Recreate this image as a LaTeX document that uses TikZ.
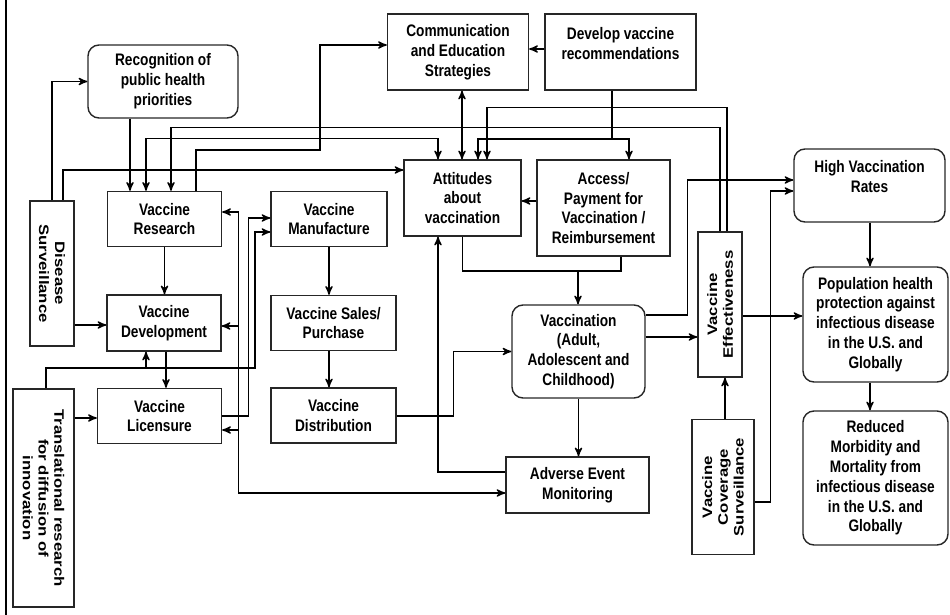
\documentclass[tikz,border=0pt]{standalone}
\usepackage{fontspec}
\setmainfont{Liberation Sans}[FakeStretch=0.82]
\newfontfamily\vertfont{Liberation Sans}[FakeStretch=1.22]
\usetikzlibrary{arrows,positioning}
\tikzset{
>=stealth',
punktbox/.style={ rectangle, draw=black!85, thick, align=center, inner sep=0pt},
rundbox/.style={ punktbox, rounded corners=0.22cm},
standbox/.style={ punktbox, font=\vertfont\fontsize{7.8}{9}\selectfont\bfseries},
dims/.style 2 args={minimum width=#1*0.02cm, minimum height=#2*0.02cm},
line/.style={draw, thick, ->},
merge/.style={draw, thick, -},
twoway/.style={draw, thick, <->},
}
\begin{document}
\begin{tikzpicture}
[x=0.02cm, y=-0.02cm, font=\fontsize{9.5}{11.3}\selectfont\bfseries]
\useasboundingbox (0,0) rectangle (950,615);
\draw[line width=1.6pt] (6,0) -- (6,615);

% left column
\node[rundbox, dims={150}{73}] (recog) at (163,81.5) {Recognition of\\public health\\priorities};
\node[punktbox, dims={114}{55}] (research) at (164.5,219) {Vaccine\\Research};
\node[standbox, dims={145}{44}, rotate=-90] (disease) at (52,273.5) {Disease\\Surveillance};
\node[punktbox, dims={114}{56}] (develop) at (164,323) {Vaccine\\Development};
\node[punktbox, dims={124}{55}] (licens) at (159.5,416) {Vaccine\\Licensure};
\node[standbox, dims={218}{61}, rotate=-90] (transl) at (43.5,498) {Translational research\\for diffusion of\\innovation};

% supply column
\node[punktbox, dims={116}{55}] (manuf) at (329,219) {Vaccine\\Manufacture};
\node[punktbox, dims={125}{55}] (sales) at (333.5,323) {Vaccine Sales/\\Purchase};
\node[punktbox, dims={125}{55}] (distrib) at (333.5,415.5) {Vaccine\\Distribution};

% middle
\node[punktbox, dims={141}{76}] (commun) at (458,52) {Communication\\and Education\\Strategies};
\node[punktbox, dims={151}{76}] (recs) at (620.5,52) {Develop vaccine\\recommendations\\[-1.3pt]\mbox{}};
\node[punktbox, dims={117}{76}] (attit) at (462.5,198) {Attitudes\\about\\vaccination};
\node[punktbox, dims={133}{96}] (access) at (603.5,208) {Access/\\Payment for\\Vaccination /\\Reimbursement};
\node[rundbox, dims={133}{93}] (vaccin) at (578.5,351.5) {Vaccination\\(Adult,\\Adolescent and\\Childhood)};
\node[punktbox, dims={143}{56}] (adverse) at (577.5,485) {Adverse Event\\Monitoring};

% right
\node[standbox, dims={145}{44}, rotate=90] (effect) at (720,304.5) {Vaccine\\Effectiveness};
\node[standbox, dims={135}{62}, rotate=90] (coverage) at (723,487) {Vaccine\\Coverage\\Surveillance};
\node[rundbox, dims={151}{73}] (hvr) at (869.5,185.5) {High Vaccination\\Rates\\[-1.3pt]\mbox{}};
\node[rundbox, dims={145}{115}] (pop) at (875.5,324.5) {Population health\\protection against\\infectious disease\\in the U.S. and\\Globally};
\node[rundbox, dims={145}{134}] (reduced) at (875.5,478) {Reduced\\Morbidity and\\Mortality from\\infectious disease\\in the U.S. and\\Globally};

\draw[line] (disease.west -| 52,0) |- (recog.west);
\draw[line] (disease.west -| 63,0) |- (attit.west |- 0,170);
\draw[line] (disease.north |- 0,325) -- (develop.west |- 0,325);
\draw[line] (recog.south -| 130,0) -- (research.north -| 130,0);
\draw[twoway] (research.north -| 146,0) -- ++(0,-52) -| (attit.north -| 438,0);
\draw[line] (effect.east -| 720,0) -- ++(0,-104) -| (research.north -| 171,0);
\draw[line] (effect.east -| 727,0) -- ++(0,-124) -| (attit.north -| 487,0);
\draw[line] (research.north -| 196,0) -- ++(0,-41) -- ++(124,0) |- (commun.west |- 0,45);
\draw[line] (research.south) -- (research.south |- develop.north);
\draw[line] (develop.south -| 166,0) -- (licens.north -| 166,0);

\coordinate (tjoin) at (146,368);
\draw[line] (transl.west -| 46,0) |- (255,368) |- (manuf.west |- 0,232);
\draw[line] (tjoin) -- (develop.south -| tjoin);
\draw[line] (transl.north |- 0,418) -- (licens.west |- 0,418);
\draw[line] (licens.east |- 0,416) -- ++(26,0) |- (manuf.west |- 0,218);

\draw[twoway] (research.east |- 0,212) -- ++(16,0) coordinate (aemx) |- (adverse.west |- 0,493);
\draw[line] (aemx |- 0,326) -- (develop.east |- 0,326);
\draw[line] (aemx |- 0,430) -- (licens.east |- 0,430);

\draw[line] (manuf.south -| 329,0) -- (sales.north -| 329,0);
\draw[line] (sales.south -| 329,0) -- (distrib.north -| 329,0);
\draw[line] (distrib.east |- 0,416) -- ++(57,0) |- (vaccin.west);

\coordinate (vjoin) at (578,271);
\path[merge] (attit.south) |- (vjoin);
\path[merge] (access.south -| 621,0) |- (vjoin);
\draw[line] (vjoin) -- (vaccin.north -| vjoin);
\draw[line] (vaccin.south) -- (vaccin.south |- adverse.north);
\draw[line] (adverse.west |- 0,472) -| (attit.south -| 438,0);
\draw[line] (access.west |- 0,201) -- (attit.east |- 0,201);
\draw[line] (recs.west |- 0,49) -- (commun.east |- 0,49);
\draw[twoway] (commun.south -| 462,0) -- (attit.north -| 462,0);

\coordinate (rjoin) at (612,139);
\path[merge] (recs.south -| rjoin) -- (rjoin);
\draw[line] (rjoin) -| (attit.north -| 478,0);
\draw[line] (rjoin) -| (access.north -| 629,0);

\draw[line] (vaccin.east |- 0,315) -- ++(42,0) |- (hvr.west |- 0,180);
\draw[line] (vaccin.east |- 0,337) -- (effect.north |- 0,337);
\draw[line] (effect.south |- 0,316) -- (pop.west |- 0,316);
\draw[line] (coverage.east -| 725,0) -- (effect.west -| 725,0);
\draw[line] (coverage.south |- 0,502) -- ++(16,0) |- (hvr.west |- 0,191);
\draw[line] (hvr.south -| 870,0) -- (pop.north -| 870,0);
\draw[line] (pop.south -| 870,0) -- (reduced.north -| 870,0);

\end{tikzpicture}
\end{document}
